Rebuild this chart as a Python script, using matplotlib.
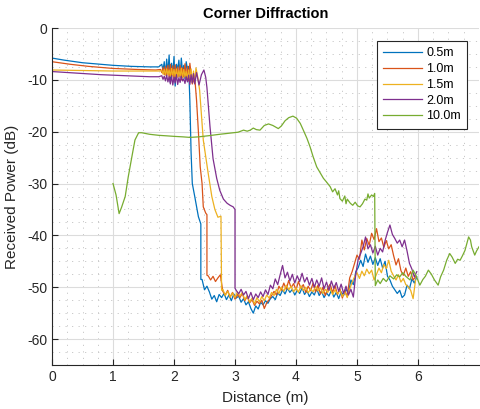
import numpy as np
import matplotlib
matplotlib.use('Agg')
import matplotlib.pyplot as plt
from matplotlib.ticker import MultipleLocator

plt.rcParams['font.family'] = ['Liberation Sans', 'DejaVu Sans']
plt.rcParams['axes.unicode_minus'] = False

# labels and colors of the five measurements
labels = ['0.5m', '1.0m', '1.5m', '2.0m', '10.0m']
colors = ['#0072BD', '#D95319', '#EDB120', '#7E2F8E', '#77AC30']

# --- 0.5m ---
x_05_start = [0.0, 0.2, 0.5, 0.8, 1.0, 1.3, 1.6, 1.75]
y_05_start = [-5.8, -6.2, -6.7, -7.0, -7.2, -7.4, -7.5, -7.5]
y_05_ripple = [-7.0, -8.2, -6.5, -9.0, -6.0, -8.8, -5.2, -10.5, -6.8, -9.2, -5.5, -11.2,
               -7.0, -8.0, -6.2, -9.5, -5.8, -8.6, -7.2, -9.8, -6.5, -8.0, -7.4]  # 1.80 .. 2.24
x_05_drop = [2.26, 2.28, 2.30, 2.34, 2.40, 2.43, 2.44, 2.44]
y_05_drop = [-14.0, -24.0, -30.0, -32.5, -36.4, -37.5, -37.8, -48.5]
y_05_floor = [-48.5, -50.5, -49.8, -50.9, -52.3, -51.6, -52.8, -51.4, -52.0, -51.2,
              -52.4, -51.5, -52.6, -51.3, -52.1, -51.7, -52.9, -52.2, -53.4, -52.8,
              -54.1, -55.0, -53.6, -54.2, -52.9, -53.4, -52.6, -53.1, -52.2, -51.8,
              -52.4, -51.1, -51.6, -50.5, -51.3, -50.2, -51.0, -50.4, -51.5, -50.6,
              -51.2, -50.1, -51.4, -50.7, -51.8, -50.9, -51.5, -50.3, -51.6, -50.8,
              -52.0, -51.1, -51.7, -50.6, -51.9, -51.0, -52.2, -50.9, -51.6, -50.4,
              -51.2, -48.6, -49.5, -47.0, -46.2, -44.8, -46.0, -43.6, -45.2, -44.0,
              -45.6, -44.3, -45.8, -44.5, -46.3, -45.0, -47.9, -48.6, -49.8, -50.5,
              -51.2, -50.6, -52.0, -51.5, -49.6, -50.3, -48.4, -49.2, -48.0]  # 2.46 .. 5.98

# --- 1.0m ---
x_10_start = [0.0, 0.3, 0.6, 1.0, 1.4, 1.7]
y_10_start = [-6.5, -7.0, -7.4, -7.8, -8.0, -8.1]
y_10_ripple = [-8.0, -8.6, -7.6, -9.0, -7.4, -9.2, -7.2, -9.5, -7.0, -9.6, -7.3, -9.8,
               -7.1, -9.7, -7.5, -9.4, -7.2, -10.0, -7.6, -9.5, -6.9, -9.8, -7.4, -10.2,
               -6.8]  # 1.78 .. 2.26
x_10_drop = [2.30, 2.34, 2.37, 2.40, 2.43, 2.46, 2.48, 2.52, 2.54, 2.54]
y_10_drop = [-10.8, -9.5, -14.0, -20.0, -26.8, -30.0, -34.5, -35.7, -36.0, -47.7]
y_10_floor = [-47.8, -48.6, -47.9, -48.9, -48.2, -47.6, -50.8, -51.5, -50.6, -51.9,
              -51.0, -52.3, -51.4, -52.0, -51.2, -52.6, -51.8, -53.0, -52.4, -53.5,
              -52.7, -53.2, -52.5, -54.1, -53.0, -52.4, -51.6, -50.8, -51.5, -49.8,
              -50.6, -49.2, -50.4, -48.7, -50.1, -49.3, -50.5, -48.9, -50.2, -49.5,
              -51.0, -49.8, -50.7, -49.2, -50.9, -49.6, -51.3, -50.0, -51.6, -50.2,
              -49.4, -51.0, -49.7, -51.4, -50.3, -52.1, -50.6, -51.8, -48.2, -47.0,
              -45.4, -43.8, -44.6, -40.9, -42.8, -40.6, -41.9, -39.6, -40.8, -38.7,
              -41.2, -40.5, -42.3, -41.0, -42.6, -41.8, -43.9, -45.7, -44.5, -46.8,
              -47.7, -46.3, -47.9, -47.0, -48.6, -48.0]  # 2.56 .. 5.96

# --- 1.5m ---
x_15_start = [0.0, 0.5, 1.0, 1.5, 1.75]
y_15_start = [-8.1, -8.2, -8.3, -8.3, -8.3]
y_15_ripple = [-8.2, -8.9, -8.0, -9.1, -7.9, -9.0, -8.1, -9.3, -7.8, -9.2, -8.0, -9.4,
               -7.9, -9.5, -8.2, -9.3, -7.8, -9.6, -8.0, -9.4, -8.3, -10.0, -8.1, -10.3,
               -7.9, -10.5, -8.3, -10.6]  # 1.80 .. 2.34
x_15_drop = [2.36, 2.39, 2.42, 2.48, 2.56, 2.62, 2.67, 2.72, 2.77, 2.78]
y_15_drop = [-7.7, -9.5, -12.0, -21.6, -28.0, -32.5, -35.0, -36.5, -36.3, -50.6]
y_15_floor = [-50.4, -51.6, -50.8, -51.9, -51.1, -52.0, -50.9, -51.7, -51.0, -52.4,
              -51.6, -52.9, -52.1, -53.2, -52.0, -52.8, -51.8, -52.6, -51.5, -52.1,
              -51.0, -51.6, -50.4, -51.2, -50.0, -50.8, -49.6, -50.5, -49.8, -50.9,
              -50.1, -51.0, -49.7, -50.6, -50.0, -51.1, -50.3, -50.9, -49.8, -50.7,
              -50.1, -51.2, -50.4, -51.0, -50.2, -51.4, -50.5, -51.3, -50.6, -51.8,
              -50.9, -52.0, -50.4, -49.0, -48.0, -47.2, -48.3, -46.9, -47.8, -46.5,
              -47.4, -46.7, -48.6, -47.5, -46.3, -47.2, -45.6, -46.4, -44.8, -46.9,
              -47.8, -48.6, -47.6, -49.0, -48.3, -49.5, -49.9, -50.6, -52.2, -48.6]  # 2.80 .. 5.96

# --- 2.0m ---
x_20_start = [0.0, 0.4, 0.8, 1.2, 1.6, 1.75]
y_20_start = [-8.4, -8.7, -9.0, -9.2, -9.4, -9.4]
y_20_ripple = [-9.2, -9.9, -9.3, -10.2, -9.1, -10.4, -9.4, -10.8, -9.2, -11.0, -9.5, -10.6,
               -9.0, -10.9, -9.6, -10.5, -9.3, -10.2, -9.8, -10.7, -9.4, -10.4, -9.1, -10.9,
               -9.0, -10.6, -8.8, -10.8]  # 1.80 .. 2.34
x_20_drop = [2.37, 2.41, 2.45, 2.49, 2.52, 2.54, 2.59, 2.64, 2.70, 2.75, 2.81, 2.87,
             2.92, 2.97, 3.0, 3.0]
y_20_drop = [-8.6, -11.0, -9.0, -8.1, -9.5, -11.5, -19.0, -25.2, -29.0, -31.3, -33.0, -33.8,
             -34.2, -34.5, -35.0, -50.2]
y_20_floor = [-50.6, -51.3, -50.4, -51.5, -50.8, -52.2, -51.0, -52.4, -51.3, -52.0,
              -50.9, -51.8, -50.5, -51.4, -49.6, -50.3, -48.4, -49.5, -47.6, -45.8,
              -48.2, -47.1, -48.8, -47.5, -49.2, -47.8, -48.9, -47.3, -49.0, -48.1,
              -49.6, -48.3, -50.0, -48.6, -49.8, -48.2, -50.3, -49.0, -50.6, -48.8,
              -50.2, -49.1, -50.8, -49.4, -51.2, -49.8, -51.5, -50.4, -51.9, -47.5,
              -44.6, -43.5, -42.2, -40.3, -42.6, -41.8, -43.4, -42.1, -43.8, -42.5,
              -43.2, -41.0, -39.4, -38.0, -39.8, -40.6, -41.5, -40.9, -42.2, -40.9,
              -43.0, -45.4, -46.5, -48.0, -47.0]  # 3.02 .. 5.98

# --- 10.0m ---
x_100 = [1.00, 1.05, 1.10, 1.14, 1.20, 1.25, 1.31, 1.36, 1.42, 1.47, 1.6, 1.75, 1.88, 2.0,
         2.15, 2.26, 2.4, 2.55, 2.75, 2.9, 3.05, 3.14, 3.2, 3.25, 3.30, 3.35, 3.41, 3.48,
         3.55, 3.62, 3.71, 3.76, 3.82, 3.88, 3.95, 4.01, 4.07, 4.12, 4.18, 4.23, 4.28, 4.34,
         4.40, 4.45, 4.50, 4.56, 4.60, 4.64, 4.68, 4.70, 4.72, 4.76, 4.80, 4.82, 4.84, 4.89,
         4.93, 4.97, 5.01, 5.05, 5.09, 5.13, 5.16, 5.18, 5.20, 5.24, 5.27, 5.29, 5.30, 5.34,
         5.38, 5.43, 5.48, 5.54, 5.60, 5.65, 5.70, 5.75, 5.80, 5.87, 5.92, 5.97, 6.03, 6.08,
         6.12, 6.17, 6.22, 6.27, 6.33, 6.37, 6.42, 6.47, 6.52, 6.56, 6.61, 6.65, 6.69, 6.73,
         6.77, 6.80, 6.83, 6.86, 6.88, 6.93, 6.96, 7.0]
y_100 = [-30.0, -32.2, -35.8, -34.6, -32.5, -28.7, -24.8, -21.6, -20.2, -20.2, -20.5, -20.7,
         -20.8, -20.9, -21.0, -21.1, -21.0, -20.8, -20.5, -20.3, -20.1, -19.7, -19.9, -19.7,
         -19.3, -19.6, -19.7, -18.8, -18.5, -18.8, -19.4, -18.9, -17.9, -17.3, -17.0, -17.4,
         -18.4, -19.7, -21.3, -22.9, -24.8, -26.8, -28.0, -29.0, -29.7, -30.6, -31.6, -31.0,
         -32.2, -31.4, -32.9, -33.4, -32.4, -33.9, -33.0, -33.8, -34.2, -33.6, -34.3, -34.5,
         -33.9, -33.0, -33.2, -32.0, -32.8, -32.2, -32.5, -31.9, -49.7, -48.6, -49.3, -48.3,
         -48.9, -47.8, -48.4, -47.6, -48.0, -47.2, -47.9, -48.6, -46.7, -47.8, -49.6, -48.5,
         -47.9, -46.7, -47.5, -48.6, -49.6, -48.0, -46.7, -44.8, -43.5, -44.2, -45.4, -44.6,
         -44.8, -43.9, -42.9, -41.6, -40.3, -40.9, -42.2, -43.8, -43.0, -42.2]


def grid_x(start, n, step):
    # evenly spaced sample positions for the noisy parts
    return list(np.round(start + step * np.arange(n), 3))


x_05 = x_05_start + grid_x(1.80, len(y_05_ripple), 0.02) + x_05_drop + grid_x(2.46, len(y_05_floor), 0.04)
y_05 = y_05_start + y_05_ripple + y_05_drop + y_05_floor
x_10 = x_10_start + grid_x(1.78, len(y_10_ripple), 0.02) + x_10_drop + grid_x(2.56, len(y_10_floor), 0.04)
y_10 = y_10_start + y_10_ripple + y_10_drop + y_10_floor
x_15 = x_15_start + grid_x(1.80, len(y_15_ripple), 0.02) + x_15_drop + grid_x(2.80, len(y_15_floor), 0.04)
y_15 = y_15_start + y_15_ripple + y_15_drop + y_15_floor
x_20 = x_20_start + grid_x(1.80, len(y_20_ripple), 0.02) + x_20_drop + grid_x(3.02, len(y_20_floor), 0.04)
y_20 = y_20_start + y_20_ripple + y_20_drop + y_20_floor

series = [(x_05, y_05), (x_10, y_10), (x_15, y_15), (x_20, y_20), (x_100, y_100)]

fig = plt.figure(figsize=(4.8, 4.09), dpi=100)
ax = fig.add_axes([52 / 480, 44 / 409, 427 / 480, 337 / 409])

for (xs, ys), lab, col in zip(series, labels, colors):
    ax.plot(xs, ys, color=col, linewidth=0.9, label=lab)

ax.set_xlim(0, 7)
ax.set_ylim(-65, 0)
ax.set_xticks(range(0, 7))
ax.set_yticks(range(-60, 1, 10))
ax.xaxis.set_minor_locator(MultipleLocator(0.25))
ax.yaxis.set_minor_locator(MultipleLocator(2.5))

# grid like matlab: light solid major lines, sparse dotted minor lines
ax.grid(which='major', color='#dcdcdc', linewidth=0.8)
ax.grid(which='minor', color='#c8c8c8', linestyle=(0, (1.2, 5.5)), linewidth=0.7)
ax.set_axisbelow(True)

for side in ['top', 'right']:
    ax.spines[side].set_visible(False)
for side in ['left', 'bottom']:
    ax.spines[side].set_color('#262626')
    ax.spines[side].set_linewidth(0.8)
ax.tick_params(which='major', direction='in', length=4, color='#262626',
               labelsize=10, labelcolor='#262626')
ax.tick_params(which='minor', length=0)

ax.set_title('Corner Diffraction', fontsize=10.5, fontweight='bold', color='#000000', pad=7)
ax.set_xlabel('Distance (m)', fontsize=11, color='#262626', labelpad=5)
ax.set_ylabel('Received Power (dB)', fontsize=11, color='#262626', labelpad=6)

leg = ax.legend(loc='upper right', bbox_to_anchor=(0.972, 0.961), borderaxespad=0,
                fontsize=9, fancybox=False, framealpha=1, edgecolor='#262626',
                labelspacing=0.3, handlelength=3.1, handletextpad=0.35, borderpad=0.5)
leg.get_frame().set_linewidth(0.8)

fig.savefig('out.png', dpi=100)
